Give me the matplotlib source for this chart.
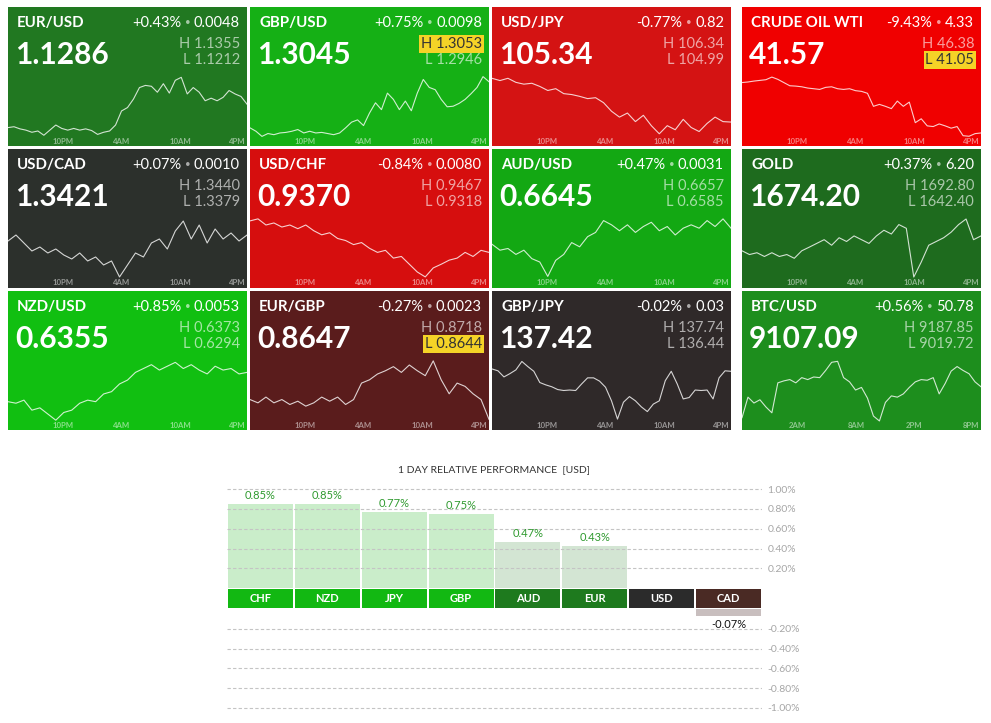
import matplotlib
matplotlib.use("Agg")
import matplotlib.pyplot as plt
import numpy as np

plt.rcParams["font.family"] = ["Lato", "DejaVu Sans"]

W, H = 991, 723

# ---- tile data ----
symbols = ["EUR/USD", "GBP/USD", "USD/JPY", "CRUDE OIL WTI",
           "USD/CAD", "USD/CHF", "AUD/USD", "GOLD",
           "NZD/USD", "EUR/GBP", "GBP/JPY", "BTC/USD"]
last = [1.1286, 1.3045, 105.34, 41.57,
        1.3421, 0.9370, 0.6645, 1674.20,
        0.6355, 0.8647, 137.42, 9107.09]
chg_pct = [0.43, 0.75, -0.77, -9.43,
           0.07, -0.84, 0.47, 0.37,
           0.85, -0.27, -0.02, 0.56]
chg_abs = [0.0048, 0.0098, 0.82, 4.33,
           0.0010, 0.0080, 0.0031, 6.20,
           0.0053, 0.0023, 0.03, 50.78]
highs = [1.1355, 1.3053, 106.34, 46.38,
         1.3440, 0.9467, 0.6657, 1692.80,
         0.6373, 0.8718, 137.74, 9187.85]
lows = [1.1212, 1.2946, 104.99, 41.05,
        1.3379, 0.9318, 0.6585, 1642.40,
        0.6294, 0.8644, 136.44, 9019.72]
decimals = [4, 4, 2, 2, 4, 4, 4, 2, 4, 4, 2, 2]
time_labels = ["10PM", "4AM", "10AM", "4PM"]
btc_time_labels = ["2AM", "8AM", "2PM", "8PM"]

eurusd = [1.1234, 1.1236, 1.1231, 1.1228, 1.1223, 1.1226, 1.1216, 1.1228, 1.1240, 1.1232,
          1.1228, 1.1232, 1.1228, 1.1231, 1.1227, 1.1218, 1.1223, 1.1226, 1.1240, 1.1273,
          1.1281, 1.1301, 1.1328, 1.1333, 1.1331, 1.1317, 1.1337, 1.1315, 1.1345, 1.1352,
          1.1313, 1.1328, 1.1317, 1.1297, 1.1303, 1.1297, 1.1305, 1.1321, 1.1313, 1.1307,
          1.1289]
gbpusd = [1.2962, 1.2956, 1.2947, 1.2952, 1.2950, 1.2953, 1.2954, 1.2956, 1.2959, 1.2953,
          1.2956, 1.2953, 1.2954, 1.2952, 1.2950, 1.2953, 1.2962, 1.2972, 1.2976, 1.2966,
          1.2988, 1.3006, 1.2994, 1.3023, 1.3012, 1.2994, 1.3009, 1.2992, 1.3023, 1.3047,
          1.3033, 1.3029, 1.3012, 1.2999, 1.3000, 1.3005, 1.3012, 1.3022, 1.3033, 1.3052,
          1.3043]
usdjpy = [106.29, 106.24, 106.29, 106.20, 106.16, 106.18, 106.11, 106.02, 106.06, 105.95,
          105.93, 105.89, 105.84, 105.86, 105.75, 105.56, 105.43, 105.52, 105.33, 105.47,
          105.24, 105.06, 105.24, 105.15, 105.38, 105.20, 105.11, 105.29, 105.43, 105.33,
          105.32]
crude = [45.81, 45.86, 45.94, 46.00, 46.06, 46.29, 46.09, 45.81, 45.53, 45.50,
         45.44, 45.33, 45.27, 45.21, 45.39, 45.44, 45.27, 45.21, 45.27, 45.10,
         45.04, 44.87, 43.73, 43.90, 43.73, 43.53, 44.19, 43.73, 44.10, 42.30,
         42.64, 42.02, 41.96, 42.19, 42.02, 41.82, 41.96, 41.16, 41.11, 41.34,
         41.40]
usdcad = [1.3417, 1.3423, 1.3415, 1.3407, 1.3411, 1.3405, 1.3409, 1.3403, 1.3399, 1.3405,
          1.3397, 1.3401, 1.3393, 1.3397, 1.3381, 1.3393, 1.3405, 1.3401, 1.3415, 1.3419,
          1.3409, 1.3427, 1.3437, 1.3419, 1.3433, 1.3415, 1.3429, 1.3419, 1.3425, 1.3417,
          1.3423]
usdchf = [0.9460, 0.9465, 0.9450, 0.9455, 0.9445, 0.9450, 0.9441, 0.9450, 0.9436, 0.9426,
          0.9431, 0.9417, 0.9412, 0.9402, 0.9407, 0.9393, 0.9383, 0.9388, 0.9369, 0.9373,
          0.9354, 0.9335, 0.9323, 0.9345, 0.9354, 0.9364, 0.9369, 0.9383, 0.9373, 0.9388,
          0.9383]
audusd = [0.6626, 0.6619, 0.6621, 0.6614, 0.6619, 0.6609, 0.6605, 0.6588, 0.6607, 0.6614,
          0.6628, 0.6623, 0.6635, 0.6640, 0.6654, 0.6649, 0.6642, 0.6649, 0.6640, 0.6647,
          0.6652, 0.6642, 0.6647, 0.6637, 0.6645, 0.6649, 0.6645, 0.6654, 0.6647, 0.6656,
          0.6645]
gold = [1665.7, 1662.6, 1664.1, 1661.0, 1664.1, 1661.0, 1662.6, 1659.5, 1665.7, 1668.7,
        1671.8, 1674.9, 1670.3, 1676.5, 1673.4, 1678.0, 1674.9, 1671.8, 1678.0, 1682.7,
        1679.6, 1687.4, 1684.3, 1644.0, 1656.4, 1670.3, 1673.4, 1676.5, 1681.1, 1687.4,
        1692.0, 1674.9, 1678.0]
nzdusd = [0.6319, 0.6317, 0.6321, 0.6308, 0.6311, 0.6303, 0.6295, 0.6305, 0.6308, 0.6317,
          0.6321, 0.6319, 0.6329, 0.6332, 0.6342, 0.6347, 0.6357, 0.6362, 0.6367, 0.6360,
          0.6365, 0.6370, 0.6362, 0.6367, 0.6360, 0.6355, 0.6365, 0.6360, 0.6362, 0.6355,
          0.6357]
eurgbp = [0.8670, 0.8666, 0.8673, 0.8666, 0.8670, 0.8664, 0.8668, 0.8662, 0.8666, 0.8673,
          0.8668, 0.8673, 0.8664, 0.8670, 0.8690, 0.8694, 0.8701, 0.8705, 0.8710, 0.8703,
          0.8712, 0.8705, 0.8699, 0.8717, 0.8694, 0.8677, 0.8690, 0.8686, 0.8677, 0.8670,
          0.8646]
gbpjpy = [137.55, 137.51, 137.38, 137.45, 137.53, 137.71, 137.60, 137.50, 137.26, 137.21,
          137.17, 137.11, 137.09, 137.10, 137.09, 137.23, 137.36, 137.36, 137.29, 137.16,
          136.87, 136.48, 136.84, 136.96, 136.87, 136.74, 136.64, 136.80, 136.87, 137.30,
          137.50, 137.23, 136.91, 136.94, 137.10, 137.09, 137.10, 136.91, 137.36, 137.51,
          137.50]
btcusd = [9028.7, 9085.4, 9069.2, 9078.2, 9058.4, 9042.2, 9124.9, 9130.3, 9133.9, 9124.9,
          9139.3, 9133.9, 9141.1, 9139.3, 9159.1, 9181.6, 9184.3, 9139.3, 9127.6, 9105.1,
          9112.3, 9082.7, 9033.2, 9019.7, 9070.9, 9088.9, 9085.4, 9094.4, 9112.3, 9127.6,
          9133.9, 9132.1, 9139.3, 9094.4, 9123.1, 9157.3, 9169.9, 9159.1, 9150.1, 9127.6,
          9114.1]
series = [eurusd, gbpusd, usdjpy, crude, usdcad, usdchf, audusd, gold,
          nzdusd, eurgbp, gbpjpy, btcusd]

# ---- relative performance data ----
currencies = ["CHF", "NZD", "JPY", "GBP", "AUD", "EUR", "USD", "CAD"]
perf = [0.85, 0.85, 0.77, 0.75, 0.47, 0.43, 0.0, -0.07]
grid_pos = [0.2, 0.4, 0.6, 0.8, 1.0]

# ---- styles ----
tile_colors = ["#217821", "#15b015", "#d41313", "#f00000",
               "#2c302c", "#d60e0e", "#13a813", "#1e6b1e",
               "#11bf11", "#5a1c1c", "#2f2929", "#1d8e1d"]
highlight = {1: "H", 3: "L", 9: "L"}
YELLOW = "#f5d327"
band_colors = ["#12b812"] * 4 + ["#1e7a1e"] * 2 + ["#2b2b2b", "#4a2a24"]
bar_colors = ["#caedca"] * 4 + ["#d3e5d3"] * 2 + ["#ffffff", "#c8bebe"]
GRID = "#c4c4c4"

col_x = [8, 250, 492, 742]
row_y = [7, 149, 291]
TW, TH = 239, 139
tick_x = [55, 114, 172, 229]

fig = plt.figure(figsize=(W / 100, H / 100), dpi=100)
fig.patch.set_facecolor("white")
renderer = fig.canvas.get_renderer()


def px_axes(x, y, w, h):
    return fig.add_axes([x / W, 1 - (y + h) / H, w / W, h / H])


def blank(ax):
    ax.set_xticks([])
    ax.set_yticks([])
    for sp in ax.spines.values():
        sp.set_visible(False)


def left_edge(ax, t):
    # left x of a drawn text, in the tile's pixel coordinates
    bb = t.get_window_extent(renderer=renderer)
    return ax.transData.inverted().transform((bb.x0, bb.y0))[0]


soft = (1, 1, 1, 0.62)

for i, sym in enumerate(symbols):
    r, c = divmod(i, 4)
    x0, y0 = col_x[c], row_y[r]
    ax = px_axes(x0, y0, TW, TH)
    ax.set_xlim(0, TW)
    ax.set_ylim(TH, 0)
    ax.set_facecolor(tile_colors[i])
    blank(ax)

    d = decimals[i]
    ax.text(9, 16, sym, fontsize=10.8, fontweight="bold", color="white",
            ha="left", va="center")
    ax.text(7, 48, f"{last[i]:.{d}f}", fontsize=21.5, fontweight="bold",
            color="white", ha="left", va="center")

    # change: "+0.43%  •  0.0048", built right to left
    sign = "+" if chg_pct[i] >= 0 else "-"
    t1 = ax.text(232, 16, f"{chg_abs[i]:.{d}f}", fontsize=10.5, color="white",
                 ha="right", va="center")
    lx = left_edge(ax, t1)
    t2 = ax.text(lx - 3.5, 16, "\u2022", fontsize=7, color=(1, 1, 1, 0.6),
                 ha="right", va="center")
    lx = left_edge(ax, t2)
    ax.text(lx - 3.5, 16, f"{sign}{abs(chg_pct[i]):.2f}%", fontsize=10.5,
            color="white", ha="right", va="center")

    for lab, val, yy in (("H", highs[i], 37), ("L", lows[i], 53)):
        if highlight.get(i) == lab:
            ax.text(232, yy, f"{lab} {val:.{d}f}", fontsize=10.5, color="#333333",
                    ha="right", va="center",
                    bbox=dict(facecolor=YELLOW, edgecolor="none", pad=1.2))
        else:
            ax.text(232, yy, f"{lab} {val:.{d}f}", fontsize=10.5, color=soft,
                    ha="right", va="center")
    labels = btc_time_labels if sym == "BTC/USD" else time_labels
    for tx, tl in zip(tick_x, labels):
        ax.text(tx, 134, tl, fontsize=5.6, fontweight="bold", color=(1, 1, 1, 0.5),
                ha="center", va="center")

    s = px_axes(x0, y0 + 66, TW, 67)
    s.patch.set_alpha(0)
    blank(s)
    vals = series[i]
    rng = highs[i] - lows[i]
    s.set_ylim(lows[i] - rng * 0.05, highs[i] + rng * 0.05)
    s.set_xlim(0, len(vals) - 1)
    s.plot(np.arange(len(vals)), vals, color=(1, 1, 1, 0.8), lw=0.8)

# ---- relative performance chart ----
unit = 98.75  # px per 1%
CX, CW = 227, 535
ZERO_TOP, ZERO_BOT = 588, 609
top_ext = 1.05

fig.text(494 / W, 1 - 470 / H, "1 DAY RELATIVE PERFORMANCE  [USD]", fontsize=7.5,
         color="#333333", ha="center", va="center")

x = np.arange(len(currencies))
bw = 65 / 67

up = px_axes(CX, ZERO_TOP - top_ext * unit, CW, top_ext * unit)
dn = px_axes(CX, ZERO_BOT, CW, top_ext * unit)
for a in (up, dn):
    a.patch.set_alpha(0)
    for sp in a.spines.values():
        sp.set_visible(False)
    a.set_xlim(-0.5, len(currencies) - 0.5)
    a.set_xticks([])
    a.yaxis.tick_right()
    a.tick_params(axis="y", length=0, pad=4, labelsize=7.5, labelcolor="#a6a6a6")
up.set_ylim(0, top_ext)
dn.set_ylim(-top_ext, 0)
up.set_yticks(grid_pos)
up.set_yticklabels([f"{v:.2f}%" for v in grid_pos])
dn.set_yticks([-v for v in grid_pos])
dn.set_yticklabels([f"-{v:.2f}%" for v in grid_pos])
for a in (up, dn):
    for gy in a.get_yticks():
        a.axhline(gy, color=GRID, lw=0.8, ls=(0, (3, 2)), zorder=3)

pos = [v if v > 0 else 0 for v in perf]
neg = [v if v < 0 else 0 for v in perf]
up.bar(x, pos, bw, color=bar_colors, zorder=1)
dn.bar(x, neg, bw, color=bar_colors, zorder=1)
for xi, v in zip(x, perf):
    if v > 0:
        up.text(xi, v + 0.03, f"{v:.2f}%", fontsize=8, color="#2f9a2f",
                ha="center", va="bottom")
    elif v < 0:
        dn.text(xi, v - 0.03, f"{v:.2f}%", fontsize=8, color="#111111",
                ha="center", va="top")

band = px_axes(CX, ZERO_TOP + 1, CW, ZERO_BOT - ZERO_TOP - 2)
band.set_xlim(-0.5, len(currencies) - 0.5)
band.set_ylim(0, 1)
blank(band)
band.patch.set_alpha(0)
band.bar(x, [1] * len(x), bw, bottom=0, color=band_colors)
for xi, cur in zip(x, currencies):
    band.text(xi, 0.5, cur, fontsize=8, fontweight="bold", color="white",
              ha="center", va="center")

fig.savefig("out.png", dpi=100, facecolor="white")
